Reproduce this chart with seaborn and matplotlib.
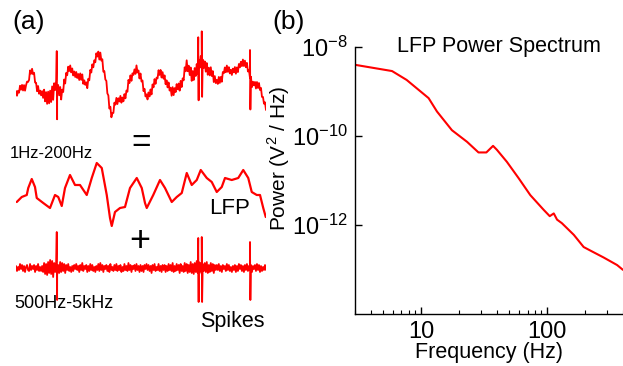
import numpy as np
import matplotlib
matplotlib.use('Agg')
import matplotlib.pyplot as plt
from matplotlib.ticker import NullLocator, NullFormatter, FixedLocator, FixedFormatter
import seaborn as sns

# (a) traces, time in ms, amplitude in a.u. (positive = up)
lfp_t = [3, 23, 43, 49, 63, 76, 83, 109, 136, 156, 169, 183, 196, 216, 236, 256,
         283, 303, 323, 343, 363, 376, 383, 396, 416, 436, 456, 483, 503, 516,
         523, 549, 576, 596, 623, 643, 663, 683, 703, 723, 739, 763, 783, 803,
         823, 836, 863, 889, 909, 929, 943, 963, 976, 989, 999]
lfp_v = [-7, -2, 0, 7, 16, 8, -3, -8, -13, 0, -2, -11, 7, 20, 10, 10,
         0, 17, 32, 27, 0, -23, -31, -17, -13, -12, 7, 17, 7, -8,
         -13, 0, 15, 7, -7, -2, 2, 22, 10, 15, 25, 17, 13, 3,
         8, 17, 15, 17, 25, 17, 3, 0, 0, -13, -22]

# high-frequency band (500Hz-5kHz), read as jitter around the baseline
hf_noise = [2, -3, 1, -2, 4, -1, 3, -3, 2, -4, 1, 3, -2, -3, 4, -2, 2, -1, 3, -4, 2, -2, 4, -3, 1,
            -3, 2, -4, 5, -6, 4, -7, 6, -5, 8, -6, 7, -9, 5, -4, 6, -7, 3, -5, 6, -4, 5, -3, 4, -5,
            3, -2, 4, -3, 1, -4, 2, -3, 3, -1, 4, -2, 2, -4, 3, -2, 5, -3, 2, -1, 3, -4, 2, -3, 4,
            -2, 3, -3, 1, -4, 2, -2, 4, -3, 5, -2, 3, -4, 2, -1, 3, -3, 2, -4, 4, -2, 1, -3, 3, -2,
            4, -3, 2, -2, 3, -4, 1, -3, 4, -2, 2, -3, 5, -2, 3, -4, 2, -1, 3, -3, 4, -2, 2, -4, 3,
            -3, 2, -4, 3, -1, 4, -2, 3, -3, 2, -5, 3, -2, 4, -3, 1, -2, 4, -3, 2, -4, 3, -2, 3, -4,
            2, -3, 4, -2, 3, -3, 5, -4, 2, -3, 4, -2, 3, -5, 4, -3, 2, -4, 5, -3, 4, -5, 3, -4, 6,
            -5, 4, -6, 5, -4, 7, -5, 6, -4, 5, -6, 4, -3, 5, -4, 6, -5, 3, -4, 5, -3, 4, -5, 3, -2,
            3, -2, 4, -3, 2, -4, 3, -1, 2, -3, 4, -2, 3, -3, 1, -4, 2, -2, 3, -4, 2, -3, 4, -1, 3,
            -3, 2, -4, 3, -2, 4, -3, 2, -2, 3, -4, 2, -1, 3, -3, 4, -2, 3, -4, 2, -3, 1, -2, 3, -2]
spike_t = [163, 729, 743, 936]
spike_up = [36, 30, 31, 26]
spike_down = [-32, -34, -34, -32]

# (b) LFP power spectrum
freq = [3.0, 5.9, 7.7, 11.5, 13.4, 17.6, 23.2, 28.6, 33, 37.3, 40, 48, 59.6,
        73.6, 94, 105, 113, 120, 131, 163, 195, 230, 281, 359, 400]
power = [3.98e-9, 2.88e-9, 1.82e-9, 7.1e-10, 3.55e-10, 1.35e-10, 7.4e-11,
         4.27e-11, 4.27e-11, 6.0e-11, 4.9e-11, 2.63e-11, 1.12e-11, 4.7e-12,
         2.19e-12, 1.58e-12, 1.82e-12, 1.32e-12, 1.1e-12, 6.0e-13, 3.2e-13,
         2.5e-13, 1.86e-13, 1.26e-13, 9.8e-14]
ytick_vals = [1e-12, 1e-10, 1e-8]
ytick_labels = [r'$\mathregular{10^{-12}}$', r'$\mathregular{10^{-10}}$', r'$\mathregular{10^{-8}}$']
xtick_vals = [10, 100]
xtick_labels = ['10', '100']

sns.set_style('ticks')
plt.rcParams['font.family'] = ['Liberation Sans', 'DejaVu Sans']
plt.rcParams['mathtext.fontset'] = 'custom'
plt.rcParams['mathtext.rm'] = 'Liberation Sans'
for k in ['text.color', 'axes.labelcolor', 'xtick.color', 'ytick.color']:
    plt.rcParams[k] = 'black'

W, H = 623, 366
fig = plt.figure(figsize=(W / 100, H / 100), dpi=100)

def fx(x):
    return x / W

def fy(y):
    return 1 - y / H

red = '#ff0000'

# ---- panel (a)
lfp_t = np.array(lfp_t, dtype=float)
lfp_v = np.array(lfp_v, dtype=float)
noise_t = np.linspace(0, 1000, len(hf_noise))
t_all = np.concatenate([noise_t, spike_t, np.array(spike_t) + 1.5])
v_all = np.concatenate([hf_noise, spike_up, spike_down]).astype(float)
order = np.argsort(t_all, kind='stable')
hf_t = t_all[order]
hf_v = v_all[order]
raw_v = np.interp(hf_t, lfp_t, lfp_v) + hf_v

ax_a = fig.add_axes([fx(16), 0, fx(250), 1])
sns.lineplot(x=hf_t, y=raw_v + 109, ax=ax_a, color=red, lw=1.3, sort=False, estimator=None)
sns.lineplot(x=lfp_t, y=lfp_v, ax=ax_a, color=red, lw=1.6, sort=False, estimator=None)
sns.lineplot(x=hf_t, y=hf_v - 73, ax=ax_a, color=red, lw=1.3, sort=False, estimator=None)
ax_a.set_xlim(0, 1000)
ax_a.set_ylim(-171, 195)
ax_a.axis('off')

fig.text(fx(12), fy(22), '(a)', fontsize=19, ha='left', va='center')
fig.text(fx(10), fy(154), '1Hz-200Hz', fontsize=12, ha='left', va='center')
fig.text(fx(141), fy(143), '=', fontsize=24, ha='center', va='center')
fig.text(fx(209), fy(209), 'LFP', fontsize=16, ha='left', va='center')
fig.text(fx(140), fy(242), '+', fontsize=26, ha='center', va='center')
fig.text(fx(14), fy(303), '500Hz-5kHz', fontsize=13, ha='left', va='center')
fig.text(fx(200), fy(321), 'Spikes', fontsize=15.5, ha='left', va='center')

# ---- panel (b)
ax_b = fig.add_axes([fx(355), 1 - 314 / H, fx(268), 267 / H])
sns.lineplot(x=freq, y=power, ax=ax_b, color=red, lw=1.5, sort=False, estimator=None)
ax_b.set_xscale('log')
ax_b.set_yscale('log')
ax_b.set_xlim(3, 400)
ax_b.set_ylim(1e-14, 1e-8)
ax_b.yaxis.set_major_locator(FixedLocator(ytick_vals))
ax_b.yaxis.set_major_formatter(FixedFormatter(ytick_labels))
ax_b.yaxis.set_minor_locator(NullLocator())
ax_b.xaxis.set_major_locator(FixedLocator(xtick_vals))
ax_b.xaxis.set_major_formatter(FixedFormatter(xtick_labels))
ax_b.xaxis.set_minor_formatter(NullFormatter())
ax_b.tick_params(which='major', direction='in', length=5, width=1, pad=5)
ax_b.tick_params(axis='x', which='major', labelsize=17)
ax_b.tick_params(axis='y', which='major', labelsize=17)
ax_b.tick_params(which='minor', direction='in', length=3, width=0.8)
sns.despine(ax=ax_b)
for s in ['left', 'bottom']:
    ax_b.spines[s].set_linewidth(1.0)
    ax_b.spines[s].set_color('black')

ax_b.text(0.537, 1.0, 'LFP Power Spectrum', transform=ax_b.transAxes,
          fontsize=15.5, ha='center', va='center')
ax_b.set_xlabel('Frequency (Hz)', fontsize=15.5)
ax_b.set_ylabel('Power (V$^2$ / Hz)', fontsize=15)
ax_b.xaxis.set_label_coords(0.5, -0.105)
ax_b.yaxis.set_label_coords(-0.235, 0.584)
fig.text(fx(272), fy(22), '(b)', fontsize=19, ha='left', va='center')

fig.savefig('out.png', dpi=100)
